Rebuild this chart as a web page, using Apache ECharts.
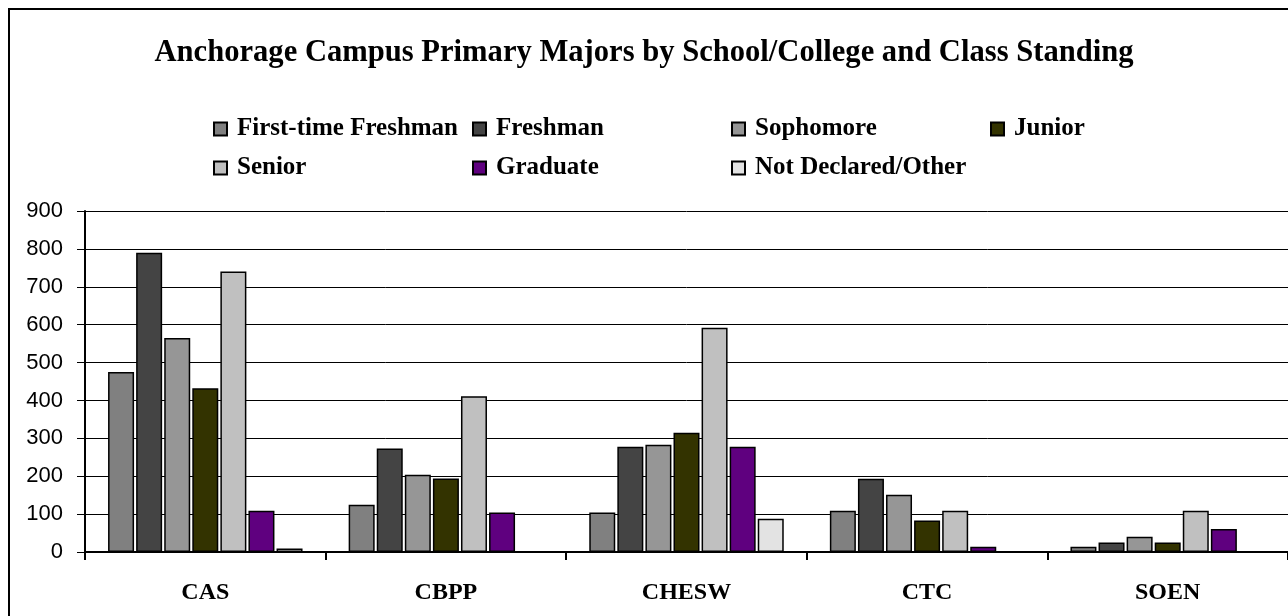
<!DOCTYPE html>
<html>
<head>
<meta charset="utf-8">
<script src="https://cdn.jsdelivr.net/npm/echarts@6/dist/echarts.min.js"></script>
<style>html,body{margin:0;padding:0;background:#fff;}#c{width:1288px;height:616px;}</style>
</head>
<body>
<div id="c"></div>
<script>
var categories = ['CAS', 'CBPP', 'CHESW', 'CTC', 'SOEN'];
var seriesNames = ['First-time Freshman', 'Freshman', 'Sophomore', 'Junior', 'Senior', 'Graduate', 'Not Declared/Other'];
var firstTimeFreshman = [475, 125, 104, 109, 14];
var freshman = [790, 273, 278, 193, 25];
var sophomore = [565, 204, 283, 151, 40];
var junior = [432, 194, 315, 83, 25];
var senior = [740, 411, 592, 109, 109];
var graduate = [109, 104, 278, 14, 61];
var notDeclared = [9, 0, 88, 0, 0];
var yTicks = [0, 100, 200, 300, 400, 500, 600, 700, 800, 900];

var colors = ['#808080', '#444444', '#969696', '#333300', '#c0c0c0', '#5f007f', '#e3e3e3'];
var values = [firstTimeFreshman, freshman, sophomore, junior, senior, graduate, notDeclared];

var chart = echarts.init(document.getElementById('c'));
var serif = 'Liberation Serif, Times New Roman, serif';
var series = seriesNames.map(function (n, i) {
  return {
    name: n, type: 'bar', data: values[i], barWidth: 26, barGap: '8%',
    itemStyle: { color: colors[i], borderColor: '#000', borderWidth: 1.5 }
  };
});
chart.setOption({
  animation: false,
  backgroundColor: '#fff',
  title: {
    text: 'Anchorage Campus Primary Majors by School/College and Class Standing',
    left: 'center', top: 33,
    textStyle: { fontFamily: serif, fontWeight: 'bold', fontSize: 30.6, color: '#000' }
  },
  legend: {
    data: seriesNames, left: 213, top: 114, width: 1050, orient: 'horizontal', padding: 0,
    icon: 'rect', itemWidth: 13, itemHeight: 13, itemGap: 9,
    textStyle: { fontFamily: serif, fontWeight: 'bold', fontSize: 25, color: '#000', width: 226, lineHeight: 30, padding: [0, 0, 0, 5] }
  },
  graphic: [{ type: 'rect', shape: { x: 9, y: 9, width: 1300, height: 620 }, style: { fill: 'none', stroke: '#000', lineWidth: 2 }, silent: true }],
  grid: { left: 85, top: 211, width: 1205, height: 341, containLabel: false },
  xAxis: {
    type: 'category', data: categories,
    axisLine: { lineStyle: { color: '#000', width: 2 } },
    axisTick: { show: true, length: 8, lineStyle: { color: '#000', width: 2 }, alignWithLabel: false },
    axisLabel: { fontFamily: serif, fontWeight: 'bold', fontSize: 24, color: '#000', margin: 29 }
  },
  yAxis: {
    type: 'value', min: 0, max: 900, interval: 100,
    axisLine: { show: true, lineStyle: { color: '#000', width: 2 } },
    axisTick: { show: true, length: 8, lineStyle: { color: '#000', width: 1 } },
    axisLabel: { fontFamily: 'Liberation Sans, Arial, sans-serif', fontSize: 22, color: '#000', margin: 22 },
    splitLine: { lineStyle: { color: '#000', width: 1 } }
  },
  series: series
});
</script>
</body>
</html>
